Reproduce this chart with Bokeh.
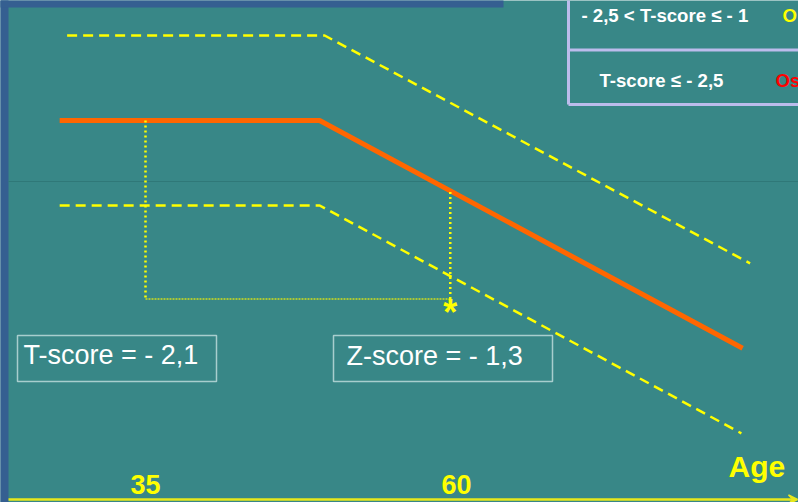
import numpy as np
from bokeh.plotting import figure
from bokeh.models import Arrow, VeeHead
from bokeh.core.properties import value
from bokeh.embed import file_html
from bokeh.resources import INLINE

# ---- data (age in years, bone density in T-score units) ----
mean_age = [28.1, 49.0, 83.0]
mean_t = [0.0, 0.0, -2.68]
upper_age = [28.7, 49.4, 83.6]
upper_t = [1.0, 1.0, -1.68]
lower_age = [28.1, 49.0, 82.9]
lower_t = [-1.0, -1.0, -3.68]
peak_age = 35
patient_age = 59.5
patient_t = -2.1
tick_values = [35, 60]
tick_labels = ["35", "60"]
axis_title = "Age"
t_label = "T-score = - 2,1"
z_label = "Z-score = - 1,3"
table_rows = ["- 2,5 < T-score \u2264 - 1", "T-score \u2264 - 2,5"]
table_tail = ["O", "Os"]
table_tail_colors = ["#ffff00", "#ff0000"]

# ---- layout ----
W, H = 798, 502
PX35, PXY, PY0, PSD = 145.0, 12.44, 120.0, 85.0


def ax(px):
    return 35 + (px - PX35) / PXY


def ty(py):
    return (PY0 - py) / PSD


BG = "#388787"
STRIP = "#355f91"
FONT = value("Liberation Sans")

p = figure(width=W, height=H, x_range=(ax(0), ax(W)), y_range=(ty(H), ty(0)),
           output_backend="svg", toolbar_location=None, min_border=0,
           x_axis_type=None, y_axis_type=None,
           background_fill_color=BG, border_fill_color=BG, outline_line_color=None)
p.grid.visible = False

# slide decorations
p.quad(left=[ax(-5)], right=[ax(8)], top=[ty(-5)], bottom=[ty(H + 5)],
       fill_color=STRIP, line_color=None)
p.quad(left=[ax(-5)], right=[ax(503)], top=[ty(-5)], bottom=[ty(7)],
       fill_color=STRIP, line_color=None)
p.segment(x0=[ax(8)], x1=[ax(W + 5)], y0=[ty(181)], y1=[ty(181)],
          line_color="#2f7878", line_width=1)

# table at top right
lav = "#bcbcec"
p.segment(x0=[ax(568), ax(568), ax(568)], x1=[ax(568), ax(W + 5), ax(W + 5)],
          y0=[ty(-5), ty(49.5), ty(104)], y1=[ty(104), ty(49.5), ty(104)],
          line_color=lav, line_width=3)
p.text(x=[ax(581), ax(599)], y=[ty(14.5), ty(79.5)], text=table_rows,
       text_font=FONT, text_font_size="18.6px", text_font_style="bold",
       text_color="white", text_baseline="middle", text_align="left")
p.text(x=[ax(782), ax(775)], y=[ty(14.5), ty(79.5)], text=table_tail,
       text_font=FONT, text_font_size="18.6px", text_font_style="bold",
       text_color=table_tail_colors, text_baseline="middle", text_align="left")

# curves
p.line(upper_age, upper_t, line_color="#ffff00", line_width=2.5, line_dash="10 6")
p.line(lower_age, lower_t, line_color="#ffff00", line_width=2.5, line_dash="10 6")
p.line(mean_age, mean_t, line_color="#ff6600", line_width=5)

# patient construction lines
mean_at_peak = float(np.interp(peak_age, mean_age, mean_t))
mean_at_patient = float(np.interp(patient_age, mean_age, mean_t))
p.line([peak_age, peak_age], [mean_at_peak, patient_t], line_color="#ffff00",
       line_width=2.5, line_dash="2 3")
p.line([peak_age, patient_age], [patient_t, patient_t], line_color="#c8d820",
       line_width=2, line_dash="2 1", line_alpha=0.8)
p.line([patient_age, patient_age], [patient_t, mean_at_patient], line_color="#ffff00",
       line_width=2.5, line_dash="2 3")
p.text(x=[patient_age], y=[patient_t - 13 / PSD], text=["*"],
       text_font=FONT, text_font_size="36px", text_font_style="bold",
       text_color="#ffff00", text_baseline="middle", text_align="center")

# score boxes
p.quad(left=[ax(17), ax(333)], right=[ax(216), ax(552)], top=[ty(335), ty(335)],
       bottom=[ty(381), ty(381)], fill_color=None, line_color="#a8cece", line_width=1.5)
p.text(x=[ax(23), ax(346)], y=[ty(354), ty(355)], text=[t_label, z_label],
       text_font=FONT, text_font_size="27px", text_color="white",
       text_baseline="middle", text_align="left")

# age axis
p.add_layout(Arrow(end=VeeHead(size=9, line_color="#e8e81a", fill_color="#e8e81a", line_width=1.5),
                   x_start=ax(8), y_start=ty(499), x_end=ax(W - 1), y_end=ty(499),
                   line_color="#e8e81a", line_width=2.5))
p.text(x=tick_values, y=[ty(483.5)] * len(tick_values), text=tick_labels,
       text_font=FONT, text_font_size="27px", text_font_style="bold",
       text_color="#ffff00", text_baseline="middle", text_align="center")
p.text(x=[ax(728)], y=[ty(466)], text=[axis_title],
       text_font=FONT, text_font_size="30px", text_font_style="bold",
       text_color="#ffff00", text_baseline="middle", text_align="left")

open("out.html", "w").write(file_html(p, INLINE))
